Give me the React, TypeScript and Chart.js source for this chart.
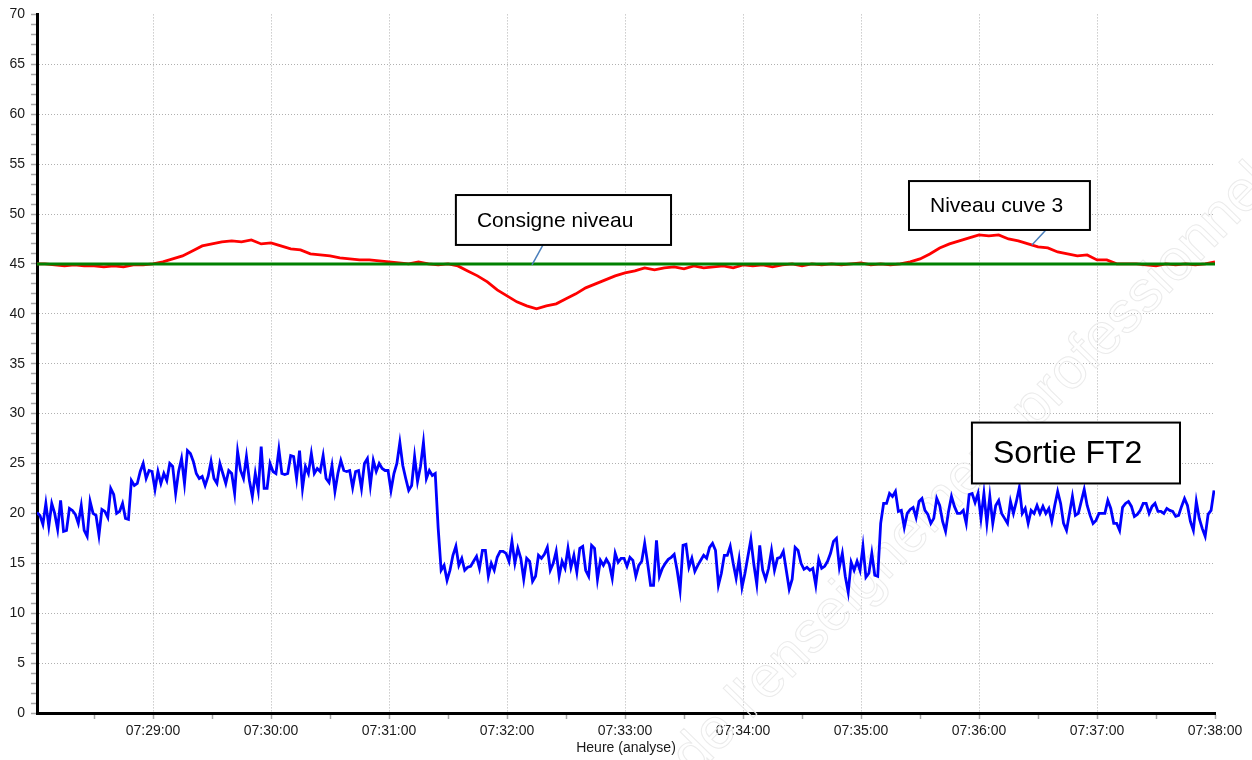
import React, { useEffect, useRef } from "react";
import { Chart, registerables } from "chart.js";

Chart.register(...registerables);

// ---- time axis (seconds after 07:28:00) ----
const axisStartSec = 1;
const axisEndSec = 600;
const majorTickSecs = [60, 120, 180, 240, 300, 360, 420, 480, 540, 600];
const majorTickLabels = ["07:29:00", "07:30:00", "07:31:00", "07:32:00", "07:33:00", "07:34:00", "07:35:00", "07:36:00", "07:37:00", "07:38:00"];
const minorTickSecs = [30, 90, 150, 210, 270, 330, 390, 450, 510, 570];
const xAxisTitle = "Heure (analyse)";

// ---- value axis ----
const yMin = 0;
const yMax = 70;
const yLabelStep = 5;

// ---- series: Sortie FT2 (sampled every 1.5 s from 07:28:01) ----
const ft2StartSec = 1;
const ft2StepSec = 1.5;
const sortieFT2 = [
  20.1, 19.8, 18.9, 21.0, 18.7, 21.0, 20.0, 18.4, 21.3, 18.2, 18.3, 20.5, 20.3, 19.9, 19.0, 20.8,
  18.3, 17.7, 21.2, 20.0, 19.8, 17.8, 20.4, 20.2, 19.6, 22.5, 21.9, 20.0, 20.2, 21.0, 19.5, 19.4,
  23.3, 22.8, 23.0, 24.2, 25.0, 23.5, 24.3, 24.2, 22.4, 24.2, 23.0, 24.0, 23.3, 25.0, 24.7, 22.0,
  24.2, 25.5, 23.0, 26.3, 26.0, 25.2, 24.0, 23.5, 23.7, 22.8, 23.7, 25.2, 23.5, 23.0, 25.0, 24.0,
  23.0, 24.3, 24.0, 22.0, 26.2, 24.3, 23.5, 25.7, 23.3, 21.7, 24.0, 22.3, 26.7, 22.5, 22.5, 25.0,
  24.2, 24.0, 26.4, 24.0, 23.9, 24.0, 25.8, 25.7, 23.5, 26.3, 22.5, 24.7, 24.0, 26.0, 24.0, 24.5,
  24.2, 25.8, 23.5, 23.1,
  24.8, 22.2, 24.0, 25.3, 24.3, 24.2, 24.3, 22.6, 24.2, 24.3, 22.5, 25.0, 25.5, 22.8, 25.3, 24.2,
  25.0, 24.5, 24.3, 24.3, 22.3, 24.0, 25.0, 27.1, 24.8, 23.5, 22.3, 22.8, 25.7, 23.2, 24.7, 27.1,
  23.5, 24.3, 23.8, 24.0, 18.5,
  14.3, 14.8, 13.3, 14.3, 15.8, 16.7, 14.8, 15.5, 14.3, 14.6, 14.7, 15.2, 15.7, 14.5, 16.3, 16.3,
  13.7, 15.0, 14.3, 15.6, 16.2, 16.2, 16.0, 15.2, 17.2, 15.0, 16.5, 15.5, 13.4, 15.5, 15.2, 13.2,
  13.7, 15.8, 15.5, 15.9, 16.6, 14.3, 15.0, 16.2, 13.7, 15.2, 14.5, 16.5, 14.6, 15.8, 14.1, 16.5,
  16.7, 14.3, 13.7, 16.8, 16.5, 13.4, 15.3, 14.8, 15.4, 14.9, 13.5, 16.0, 15.1, 15.5, 15.5,
  14.7, 15.6, 15.3, 13.7, 14.8, 15.2, 17.0, 15.0, 12.8, 12.8, 17.3, 13.7, 14.5, 15.0, 15.4, 15.6,
  15.9, 14.3, 12.3, 16.8, 16.9, 14.6, 15.5, 14.2, 14.8, 15.3, 15.8, 15.5, 16.6, 17.0, 16.3, 12.8,
  14.0, 15.8, 15.8, 16.7, 15.0, 13.5, 15.4, 12.6, 14.0, 15.7, 17.4, 14.9, 12.9, 16.8, 14.3, 13.4,
  14.5, 16.3, 14.3, 15.5, 15.6, 16.2, 14.3, 12.4, 13.4, 16.6, 16.3, 15.0, 14.4, 14.6, 14.3, 14.5,
  12.8, 15.4, 14.5, 14.7, 15.2, 16.0, 17.2, 17.5, 14.6, 16.0, 13.7, 12.1, 15.1, 14.3, 15.2, 14.3,
  16.7, 13.6, 14.0, 16.0, 13.8, 13.7,
  19.0, 21.0, 21.0, 22.0, 21.7, 22.2, 20.2, 20.3, 18.6, 20.0, 20.4, 20.6, 19.6, 21.2,
  21.5, 20.3, 19.9, 19.0, 19.5, 21.5, 20.8, 19.2, 18.2, 20.2, 21.7, 20.7, 20.0, 20.0, 20.3, 19.0,
  21.9, 22.0, 21.1, 22.0, 19.5, 22.0, 19.0, 21.7, 19.0, 20.8, 21.3, 20.0, 19.5, 19.0, 21.2, 20.0,
  21.2, 22.6, 20.0, 20.5, 19.0, 20.3, 20.0, 20.8, 20.0, 20.7, 20.0, 20.5, 19.2, 20.8, 22.2, 21.0,
  19.0, 18.3, 20.0, 21.7, 19.8, 20.0, 21.2, 22.4, 20.8, 19.8, 19.0, 19.3, 20.0, 20.0, 20.0, 21.3,
  20.5, 19.0, 19.0, 18.3, 20.6, 21.0, 21.2, 20.7, 19.7, 19.9, 20.3, 21.0, 21.0, 20.0, 20.7, 21.0,
  20.2, 20.2, 20.0, 20.5, 20.3, 20.2, 19.7, 19.8, 20.7, 21.5, 20.8, 19.2, 18.3, 21.2, 19.5, 18.5,
  17.7, 19.9, 20.3, 22.3,
];

// ---- series: Niveau cuve 3 (sampled every 5 s from 07:28:00) ----
const levelStartSec = 0;
const levelStepSec = 5;
const niveauCuve3 = [
  45.0, 45.0, 44.9, 44.8, 44.9, 44.8, 44.8, 44.7, 44.8, 44.7, 44.9, 44.9, 45.0, 45.2, 45.5, 45.8,
  46.3, 46.8, 47.0, 47.2, 47.3, 47.2, 47.4, 47.0, 47.1, 46.8, 46.5, 46.4, 46.0, 45.9, 45.8, 45.6,
  45.5, 45.4, 45.4, 45.3, 45.2, 45.1, 45.0, 45.2, 45.0, 44.9, 45.0, 44.8, 44.3, 43.8, 43.2, 42.4,
  41.8, 41.2, 40.8, 40.5, 40.8, 41.0, 41.5, 42.0, 42.6, 43.0, 43.4, 43.8, 44.1, 44.3, 44.6, 44.4,
  44.6, 44.7, 44.5, 44.8, 44.6, 44.7, 44.8, 44.6, 44.9, 44.8, 44.9, 44.7, 44.9, 45.0, 44.8, 45.0,
  44.9, 45.0, 44.9, 45.0, 45.1, 44.9, 45.0, 44.9, 45.0, 45.2, 45.5, 46.0, 46.6, 47.0, 47.3, 47.6,
  47.9, 47.8, 47.9, 47.5, 47.3, 47.0, 46.7, 46.6, 46.2, 46.0, 45.8, 45.9, 45.4, 45.4, 45.0, 45.0,
  45.0, 44.9, 44.8, 45.0, 44.9, 45.0, 44.9, 45.0, 45.2,
];

// ---- series: Consigne niveau ----
const consigneSecs = [0, 600];
const consigneNiveau = [45, 45];

// ---- callout labels ----
const calloutTexts = ["Consigne niveau", "Niveau cuve 3", "Sortie FT2"];
const watermarkText = "de l'enseignement professionnel";

// label boxes in data units: [tLeft, tRight, vTop, vBottom], pointer [t1, v1, t2, v2]
const calloutLayout = [
  { box: [214.0, 323.4, 51.9, 46.9], size: 21, pointer: [258.3, 46.9, 252.7, 44.9] },
  { box: [444.4, 536.4, 53.3, 48.4], size: 21, pointer: [514.0, 48.4, 506.9, 46.9] },
  { box: [476.4, 582.2, 29.1, 23.0], size: 32, pointer: null as number[] | null },
];

const FONT = '"Liberation Sans", Arial, Helvetica, sans-serif';

function fmtTime(sec: number): string {
  const i = majorTickSecs.indexOf(sec);
  return i >= 0 ? majorTickLabels[i] : "";
}

const calloutPlugin = {
  id: "callouts",
  afterDatasetsDraw(chart: any) {
    const { ctx, scales } = chart;
    const xs = scales.x;
    const ys = scales.y;
    ctx.save();
    calloutLayout.forEach((c, i) => {
      if (c.pointer) {
        ctx.beginPath();
        ctx.strokeStyle = "#4a7ebb";
        ctx.lineWidth = 1.5;
        ctx.moveTo(xs.getPixelForValue(c.pointer[0]), ys.getPixelForValue(c.pointer[1]));
        ctx.lineTo(xs.getPixelForValue(c.pointer[2]), ys.getPixelForValue(c.pointer[3]));
        ctx.stroke();
      }
      const l = xs.getPixelForValue(c.box[0]);
      const r = xs.getPixelForValue(c.box[1]);
      const t = ys.getPixelForValue(c.box[2]);
      const b = ys.getPixelForValue(c.box[3]);
      ctx.fillStyle = "#ffffff";
      ctx.fillRect(l, t, r - l, b - t);
      ctx.strokeStyle = "#000000";
      ctx.lineWidth = 2;
      ctx.strokeRect(l, t, r - l, b - t);
      ctx.fillStyle = "#000000";
      ctx.font = `${c.size}px ${FONT}`;
      ctx.textAlign = "left";
      ctx.textBaseline = "middle";
      ctx.fillText(calloutTexts[i], l + 21, (t + b) / 2 + 1);
    });
    ctx.restore();
  },
};

const watermarkPlugin = {
  id: "watermark",
  beforeDatasetsDraw(chart: any) {
    const { ctx } = chart;
    ctx.save();
    ctx.translate(694, 778);
    ctx.rotate(-Math.PI / 4 - 0.01);
    ctx.font = `58px ${FONT}`;
    ctx.strokeStyle = "#ebebeb";
    ctx.lineWidth = 1;
    ctx.strokeText(watermarkText, 0, 0);
    ctx.restore();
  },
};

export default function App() {
  const ref = useRef<HTMLCanvasElement>(null);

  useEffect(() => {
    document.body.style.margin = "0";
    const ft2Points = sortieFT2.map((v, i) => ({ x: ft2StartSec + i * ft2StepSec, y: v }));
    const levelPoints = niveauCuve3.map((v, i) => ({ x: levelStartSec + i * levelStepSec, y: v }));
    const consignePoints = consigneNiveau.map((v, i) => ({ x: consigneSecs[i], y: v }));

    const allXTicks = [...majorTickSecs, ...minorTickSecs].sort((a, b) => a - b);
    const allYTicks: number[] = [];
    for (let v = yMin; v <= yMax; v++) allYTicks.push(v);

    const chart = new Chart(ref.current as HTMLCanvasElement, {
      type: "line",
      data: {
        datasets: [
          {
            label: calloutTexts[0],
            data: consignePoints,
            borderColor: "#008000",
            borderWidth: 3,
            pointRadius: 0,
            tension: 0,
          },
          {
            label: calloutTexts[1],
            data: levelPoints,
            borderColor: "#ff0000",
            borderWidth: 2.8,
            pointRadius: 0,
            tension: 0,
          },
          {
            label: calloutTexts[2],
            data: ft2Points,
            borderColor: "#0000ff",
            borderWidth: 2.8,
            pointRadius: 0,
            tension: 0,
          },
        ],
      },
      options: {
        animation: false,
        responsive: false,
        devicePixelRatio: 1,
        layout: { padding: { left: 0, right: 37, top: 14, bottom: 0 } },
        plugins: {
          legend: { display: false },
          tooltip: { enabled: false },
        },
        scales: {
          x: {
            type: "linear",
            min: axisStartSec,
            max: axisEndSec,
            afterBuildTicks: (scale: any) => {
              scale.ticks = allXTicks.map((v) => ({ value: v }));
            },
            afterFit: (scale: any) => {
              scale.height = 47;
            },
            ticks: {
              autoSkip: false,
              maxRotation: 0,
              minRotation: 0,
              padding: 4,
              color: "#1a1a1a",
              font: { family: FONT, size: 14 },
              callback: (value: any) => fmtTime(Number(value)),
            },
            grid: {
              color: (c: any) => {
                const v = c.tick ? c.tick.value : -1;
                return v % 60 === 0 && v < 600 ? "#b0b0b0" : "rgba(0,0,0,0)";
              },
              lineWidth: 1,
              tickColor: "#a8a8a8",
              tickLength: 6,
              tickWidth: 1.5,
            },
            border: { display: true, color: "#000000", width: 3, dash: [1, 2] },
            title: {
              display: true,
              text: xAxisTitle,
              color: "#1a1a1a",
              font: { family: FONT, size: 14 },
              padding: { top: 0, bottom: 3 },
            },
          },
          y: {
            type: "linear",
            min: yMin,
            max: yMax,
            afterBuildTicks: (scale: any) => {
              scale.ticks = allYTicks.map((v) => ({ value: v }));
            },
            afterFit: (scale: any) => {
              scale.width = 37;
            },
            ticks: {
              autoSkip: false,
              padding: 6,
              color: "#1a1a1a",
              font: { family: FONT, size: 14 },
              callback: (value: any) => (Number(value) % yLabelStep === 0 ? String(value) : ""),
            },
            grid: {
              color: (c: any) => {
                const v = c.tick ? c.tick.value : -1;
                return v % yLabelStep === 0 && v > yMin && v < yMax ? "#b0b0b0" : "rgba(0,0,0,0)";
              },
              lineWidth: 1,
              tickColor: "#a8a8a8",
              tickLength: 6,
              tickWidth: 1.5,
            },
            border: { display: true, color: "#000000", width: 3, dash: [1, 2] },
          },
        },
      },
      plugins: [watermarkPlugin, calloutPlugin],
    } as any);

    return () => chart.destroy();
  }, []);

  return (
    <div style={{ width: 1252, height: 760 }}>
      <canvas ref={ref} width={1252} height={760} style={{ display: "block", width: 1252, height: 760 }} />
    </div>
  );
}
